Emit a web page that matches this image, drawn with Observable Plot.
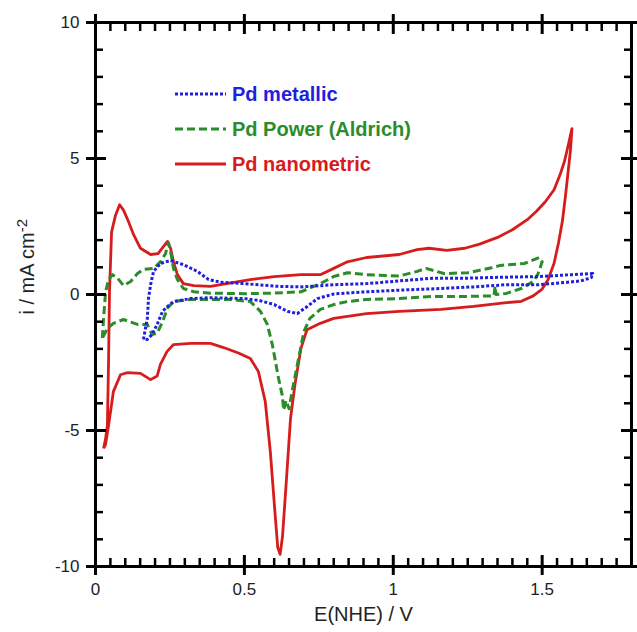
<!DOCTYPE html>
<html><head><meta charset="utf-8">
<script src="https://cdn.jsdelivr.net/npm/d3@7"></script>
<script src="https://cdn.jsdelivr.net/npm/@observablehq/plot@0.6"></script>
<style>body{margin:0;background:#fff}</style>
</head><body><div id="chart"></div>
<script>
const seriesNames = ["Pd metallic", "Pd Power (Aldrich)", "Pd nanometric"];
const seriesColors = ["#1f1fdc", "#2a8c2a", "#d61c1c"];
const seriesDash = ["3,2", "8,4", null];

// [E (V vs NHE), i (mA cm-2)] in scan order
const metallic = [[0.161,-1.65],[0.174,-0.88],[0.178,-0.15],[0.185,0.36],[0.195,0.85],[0.218,1.14],[0.252,1.25],[0.295,1.1],[0.342,0.85],[0.38,0.55],[0.42,0.45],[0.5,0.4],[0.61,0.3],[0.69,0.28],[0.75,0.32],[0.8,0.36],[0.91,0.4],[1.02,0.5],[1.135,0.6],[1.25,0.6],[1.35,0.63],[1.49,0.66],[1.6,0.73],[1.67,0.77],[1.665,0.62],[1.63,0.5],[1.585,0.45],[1.49,0.36],[1.38,0.36],[1.27,0.28],[1.16,0.22],[1.02,0.16],[0.91,0.1],[0.8,0.02],[0.745,-0.15],[0.71,-0.45],[0.678,-0.7],[0.645,-0.62],[0.6,-0.37],[0.55,-0.22],[0.5,-0.15],[0.385,-0.12],[0.32,-0.15],[0.262,-0.26],[0.242,-0.44],[0.225,-0.62],[0.207,-1.1],[0.19,-1.47],[0.174,-1.65],[0.161,-1.65]];

const power = [[0.023,-1.6],[0.027,-0.88],[0.034,0.1],[0.044,0.55],[0.057,0.73],[0.074,0.6],[0.094,0.33],[0.118,0.48],[0.141,0.77],[0.161,0.92],[0.195,0.96],[0.218,1.2],[0.235,1.5],[0.245,1.9],[0.252,1.58],[0.262,0.96],[0.275,0.55],[0.295,0.22],[0.33,0.1],[0.386,0.05],[0.5,0.03],[0.6,0.05],[0.69,0.1],[0.755,0.4],[0.8,0.66],[0.846,0.8],[0.91,0.73],[1.02,0.68],[1.08,0.85],[1.11,0.96],[1.17,0.77],[1.25,0.8],[1.33,0.98],[1.36,1.07],[1.44,1.14],[1.49,1.36],[1.5,1.2],[1.485,0.73],[1.47,0.48],[1.43,0.22],[1.38,0.04],[1.345,0.0],[1.342,0.3],[1.338,-0.05],[1.25,-0.07],[1.135,-0.07],[1.02,-0.15],[0.91,-0.18],[0.846,-0.26],[0.8,-0.37],[0.755,-0.55],[0.72,-0.88],[0.70,-1.36],[0.68,-2.46],[0.66,-3.57],[0.65,-4.2],[0.64,-3.9],[0.632,-4.25],[0.627,-3.7],[0.615,-3.1],[0.594,-1.85],[0.577,-1.1],[0.554,-0.62],[0.52,-0.26],[0.45,-0.18],[0.386,-0.18],[0.32,-0.18],[0.262,-0.26],[0.242,-0.5],[0.225,-1.0],[0.207,-1.43],[0.19,-1.47],[0.174,-1.1],[0.141,-1.1],[0.094,-0.92],[0.06,-1.06],[0.04,-1.25],[0.023,-1.6]];

const nanometric = [[0.027,-5.66],[0.034,-5.3],[0.04,-4.8],[0.044,-2.35],[0.047,0.1],[0.054,2.3],[0.067,2.9],[0.081,3.3],[0.094,3.1],[0.11,2.7],[0.128,2.2],[0.151,1.7],[0.185,1.47],[0.21,1.5],[0.228,1.76],[0.242,1.95],[0.252,1.7],[0.262,1.2],[0.275,0.73],[0.295,0.4],[0.33,0.33],[0.386,0.3],[0.44,0.4],[0.52,0.55],[0.6,0.66],[0.69,0.73],[0.755,0.73],[0.8,0.96],[0.846,1.2],[0.91,1.36],[1.02,1.47],[1.08,1.65],[1.12,1.7],[1.18,1.62],[1.24,1.7],[1.29,1.85],[1.35,2.1],[1.40,2.38],[1.45,2.75],[1.48,3.05],[1.51,3.4],[1.54,3.85],[1.56,4.4],[1.575,4.9],[1.59,5.6],[1.60,6.1],[1.595,5.3],[1.588,4.6],[1.578,3.6],[1.568,2.7],[1.555,1.9],[1.54,1.15],[1.52,0.55],[1.50,0.2],[1.47,-0.05],[1.43,-0.25],[1.38,-0.3],[1.27,-0.44],[1.16,-0.55],[1.02,-0.62],[0.91,-0.7],[0.8,-0.88],[0.755,-1.06],[0.71,-1.3],[0.69,-1.98],[0.67,-3.3],[0.655,-4.55],[0.64,-7.0],[0.628,-8.9],[0.62,-9.55],[0.612,-9.3],[0.604,-8.2],[0.587,-5.77],[0.57,-3.93],[0.547,-2.83],[0.52,-2.35],[0.48,-2.15],[0.43,-1.95],[0.386,-1.8],[0.32,-1.8],[0.262,-1.84],[0.24,-2.1],[0.218,-2.57],[0.207,-3.0],[0.185,-3.13],[0.151,-2.9],[0.107,-2.87],[0.084,-2.95],[0.06,-3.57],[0.054,-4.04],[0.044,-4.8],[0.034,-5.5],[0.027,-5.66]];

const seriesData = [metallic, power, nanometric];

const xDomain = [0, 1.8];
const yDomain = [-10, 10];
const xMajor = [0, 0.5, 1, 1.5];
const yMajor = [-10, -5, 0, 5, 10];
const xMinor = d3.range(1, 36).map(k => +(k * 0.05).toFixed(2)).filter(v => !xMajor.some(m => Math.abs(m - v) < 1e-6));
const yMinor = d3.range(-9, 10).filter(v => Math.abs(v) % 5 !== 0);
const xLabel = "E(NHE) / V";
const yLabel = "i / mA cm-2";

const W = 637, H = 632, mL = 95, mR = 6, mT = 22, mB = 66;
const font = "'Liberation Sans', Arial, sans-serif";
const tickColor = "#000";

const marks = [];
[2, 1, 0].forEach(k => {
  marks.push(Plot.line(seriesData[k], {
    x: d => d[0], y: d => d[1],
    stroke: seriesColors[k], strokeWidth: k === 2 ? 2.8 : 3,
    strokeDasharray: seriesDash[k] ?? undefined,
    strokeLinejoin: "round", strokeLinecap: "butt"
  }));
});

const noText = () => "";
marks.push(
  Plot.frame({stroke: "#000", strokeWidth: 3}),
  // minor ticks, inward, on all four sides
  Plot.axisX({anchor: "bottom", ticks: xMinor, tickSize: -8, tickFormat: noText, stroke: tickColor, strokeWidth: 2.5, label: null}),
  Plot.axisX({anchor: "top", ticks: xMinor, tickSize: -8, tickFormat: noText, stroke: tickColor, strokeWidth: 2.5, label: null}),
  Plot.axisY({anchor: "left", ticks: yMinor, tickSize: -8, tickFormat: noText, stroke: tickColor, strokeWidth: 2.5, label: null}),
  Plot.axisY({anchor: "right", ticks: yMinor, tickSize: -8, tickFormat: noText, stroke: tickColor, strokeWidth: 2.5, label: null}),
  // major ticks, crossing: inward half
  Plot.axisX({anchor: "bottom", ticks: xMajor, tickSize: -11, tickFormat: noText, stroke: tickColor, strokeWidth: 3, label: null}),
  Plot.axisX({anchor: "top", ticks: xMajor, tickSize: -11, tickFormat: noText, stroke: tickColor, strokeWidth: 3, label: null}),
  Plot.axisY({anchor: "left", ticks: yMajor, tickSize: -11, tickFormat: noText, stroke: tickColor, strokeWidth: 3, label: null}),
  Plot.axisY({anchor: "right", ticks: yMajor, tickSize: -11, tickFormat: noText, stroke: tickColor, strokeWidth: 3, label: null}),
  // major ticks, outward half (bottom/left carry the labels)
  Plot.axisX({anchor: "top", ticks: xMajor, tickSize: 9, tickFormat: noText, stroke: tickColor, strokeWidth: 3, label: null}),
  Plot.axisY({anchor: "right", ticks: yMajor, tickSize: 6, tickFormat: noText, stroke: tickColor, strokeWidth: 3, label: null}),
  Plot.axisX({anchor: "bottom", ticks: xMajor, tickSize: 9, tickPadding: 7, tickFormat: d => String(d), fontSize: 17, fill: "#222", stroke: tickColor, strokeWidth: 3, label: null}),
  Plot.axisY({anchor: "left", ticks: yMajor, tickSize: 9, tickPadding: 7, tickFormat: d => String(d), fontSize: 17, fill: "#222", stroke: tickColor, strokeWidth: 3, label: null}),
  Plot.text([xLabel], {text: d => d, frameAnchor: "bottom", dy: 54, fontSize: 20, fill: "#222"}),
  Plot.text([yLabel], {text: d => d, frameAnchor: "left", rotate: -90, dx: -68, dy: 20, fontSize: 20, fill: "#222"})
);

const chart = Plot.plot({
  width: W, height: H,
  marginLeft: mL, marginRight: mR, marginTop: mT, marginBottom: mB,
  style: {fontFamily: font, background: "#fff"},
  x: {domain: xDomain},
  y: {domain: yDomain},
  marks
});
document.getElementById("chart").appendChild(chart);

const svg = d3.select(chart);
svg.selectAll("text").filter(function() { return this.textContent === ""; }).remove();
svg.selectAll("text").filter(function() { return this.textContent === yLabel; }).each(function() {
  const t = d3.select(this);
  t.text("i / mA cm");
  t.append("tspan").attr("dy", "-0.45em").attr("font-size", "0.75em").text("-2");
});

const leg = svg.append("g")
  .attr("font-family", font).attr("font-weight", "bold").attr("font-size", 20)
  .attr("text-anchor", "start");
seriesNames.forEach((name, k) => {
  const y = 94 + k * 35;
  leg.append("line").attr("x1", 175).attr("x2", 226).attr("y1", y).attr("y2", y)
    .attr("stroke", seriesColors[k]).attr("stroke-width", 3)
    .attr("stroke-dasharray", seriesDash[k] || null);
  leg.append("text").attr("x", 232).attr("y", y).attr("dy", "0.36em")
    .attr("text-anchor", "start")
    .attr("fill", seriesColors[k]).text(name);
});
</script>
</body></html>
